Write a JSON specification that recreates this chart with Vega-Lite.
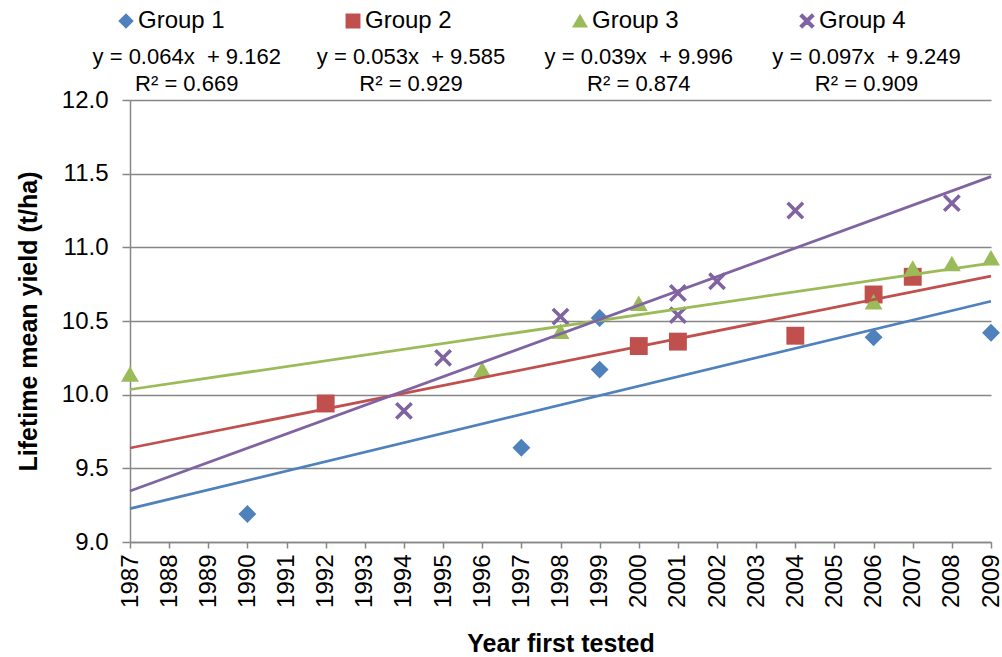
{
  "$schema": "https://vega.github.io/schema/vega-lite/v6.json",
  "width": 861,
  "height": 442,
  "autosize": "none",
  "padding": {"left": 130, "top": 100, "right": 11, "bottom": 115},
  "background": "white",
  "datasets": {
    "points": [
      {"group": "Group 1", "year": 1990, "yield": 9.19},
      {"group": "Group 1", "year": 1997, "yield": 9.64},
      {"group": "Group 1", "year": 1999, "yield": 10.17},
      {"group": "Group 1", "year": 1999, "yield": 10.52},
      {"group": "Group 1", "year": 2006, "yield": 10.39},
      {"group": "Group 1", "year": 2009, "yield": 10.42},
      {"group": "Group 2", "year": 1992, "yield": 9.94},
      {"group": "Group 2", "year": 2000, "yield": 10.33},
      {"group": "Group 2", "year": 2001, "yield": 10.36},
      {"group": "Group 2", "year": 2004, "yield": 10.40},
      {"group": "Group 2", "year": 2006, "yield": 10.68},
      {"group": "Group 2", "year": 2007, "yield": 10.80},
      {"group": "Group 3", "year": 1987, "yield": 10.14},
      {"group": "Group 3", "year": 1996, "yield": 10.17},
      {"group": "Group 3", "year": 1998, "yield": 10.43},
      {"group": "Group 3", "year": 2000, "yield": 10.62},
      {"group": "Group 3", "year": 2006, "yield": 10.63},
      {"group": "Group 3", "year": 2007, "yield": 10.86},
      {"group": "Group 3", "year": 2008, "yield": 10.89},
      {"group": "Group 3", "year": 2009, "yield": 10.93},
      {"group": "Group 4", "year": 1994, "yield": 9.89},
      {"group": "Group 4", "year": 1995, "yield": 10.25},
      {"group": "Group 4", "year": 1998, "yield": 10.53},
      {"group": "Group 4", "year": 2001, "yield": 10.69},
      {"group": "Group 4", "year": 2001, "yield": 10.54},
      {"group": "Group 4", "year": 2002, "yield": 10.77},
      {"group": "Group 4", "year": 2004, "yield": 11.25},
      {"group": "Group 4", "year": 2008, "yield": 11.30}
    ],
    "trends": [
      {"group": "Group 1", "year": 1987, "yield": 9.226},
      {"group": "Group 1", "year": 2009, "yield": 10.634},
      {"group": "Group 2", "year": 1987, "yield": 9.638},
      {"group": "Group 2", "year": 2009, "yield": 10.804},
      {"group": "Group 3", "year": 1987, "yield": 10.035},
      {"group": "Group 3", "year": 2009, "yield": 10.893},
      {"group": "Group 4", "year": 1987, "yield": 9.346},
      {"group": "Group 4", "year": 2009, "yield": 11.48}
    ],
    "eqs": [
      {"group": "Group 1", "year": 1988.45, "label": "y = 0.064x \u00a0+ 9.162\nR² = 0.669"},
      {"group": "Group 2", "year": 1994.18, "label": "y = 0.053x \u00a0+ 9.585\nR² = 0.929"},
      {"group": "Group 3", "year": 2000.0, "label": "y = 0.039x \u00a0+ 9.996\nR² = 0.874"},
      {"group": "Group 4", "year": 2005.82, "label": "y = 0.097x \u00a0+ 9.249\nR² = 0.909"}
    ]
  },
  "layer": [
    {
      "data": {"name": "points"},
      "mark": {"type": "point", "filled": true, "opacity": 1, "size": 320},
      "encoding": {
        "x": {
          "field": "year", "type": "quantitative",
          "scale": {"domain": [1987, 2009], "nice": false, "zero": false},
          "axis": {
            "title": "Year first tested",
            "values": [1987,1988,1989,1990,1991,1992,1993,1994,1995,1996,1997,1998,1999,2000,2001,2002,2003,2004,2005,2006,2007,2008,2009],
            "tickCount": 30,
            "format": "d",
            "labelAngle": -90,
            "labelOverlap": false,
            "grid": false,
            "tickSize": 6,
            "labelPadding": 6,
            "titlePadding": 24
          }
        },
        "y": {
          "field": "yield", "type": "quantitative",
          "scale": {"domain": [9, 12], "nice": false, "zero": false},
          "axis": {
            "title": "Lifetime mean yield (t/ha)",
            "values": [9, 9.5, 10, 10.5, 11, 11.5, 12],
            "tickCount": 10,
            "format": ".1f",
            "labelOverlap": false,
            "grid": true,
            "tickSize": 8,
            "labelPadding": 14,
            "titlePadding": 20
          }
        },
        "color": {
          "field": "group", "type": "nominal",
          "scale": {"domain": ["Group 1", "Group 2", "Group 3", "Group 4"], "range": ["#4F81BD", "#C0504D", "#9BBB59", "#8064A2"]},
          "legend": {
            "title": null,
            "orient": "none",
            "direction": "horizontal",
            "legendX": -16,
            "legendY": -91
          }
        },
        "shape": {
          "field": "group", "type": "nominal",
          "scale": {"domain": ["Group 1", "Group 2", "Group 3", "Group 4"], "range": ["diamond", "square", "triangle-up", "M-1,-0.72L-0.72,-1L0,-0.28L0.72,-1L1,-0.72L0.28,0L1,0.72L0.72,1L0,0.28L-0.72,1L-1,0.72L-0.28,0Z"]},
          "legend": {
            "title": null,
            "orient": "none",
            "direction": "horizontal",
            "legendX": -16,
            "legendY": -91
          }
        }
      }
    },
    {
      "data": {"name": "trends"},
      "mark": {"type": "line", "strokeWidth": 2.75},
      "encoding": {
        "x": {"field": "year", "type": "quantitative"},
        "y": {"field": "yield", "type": "quantitative"},
        "color": {"field": "group", "type": "nominal"}
      }
    },
    {
      "data": {"name": "eqs"},
      "mark": {"type": "text", "lineBreak": "\n", "align": "center", "baseline": "middle", "fontSize": 22, "lineHeight": 27, "font": "Liberation Sans", "color": "black"},
      "encoding": {
        "x": {"field": "year", "type": "quantitative"},
        "y": {"datum": 12.2885},
        "text": {"field": "label"}
      }
    }
  ],
  "config": {
    "view": {"stroke": null},
    "legend": {
      "columns": 4,
      "gridAlign": "all",
      "columnPadding": 116,
      "padding": 0,
      "symbolSize": 180,
      "symbolOpacity": 1,
      "labelOffset": 0,
      "labelFontSize": 24,
      "labelFont": "Liberation Sans",
      "labelColor": "black",
      "labelLimit": 200
    },
    "axis": {
      "labelFont": "Liberation Sans",
      "labelFontSize": 24,
      "labelColor": "black",
      "titleFont": "Liberation Sans",
      "titleFontSize": 25,
      "titleFontWeight": "bold",
      "titleColor": "black",
      "domainColor": "#868686",
      "domainWidth": 1.5,
      "tickColor": "#868686",
      "tickWidth": 1.5,
      "gridColor": "#868686",
      "gridWidth": 1.5,
      "labelOverlap": false
    }
  }
}
